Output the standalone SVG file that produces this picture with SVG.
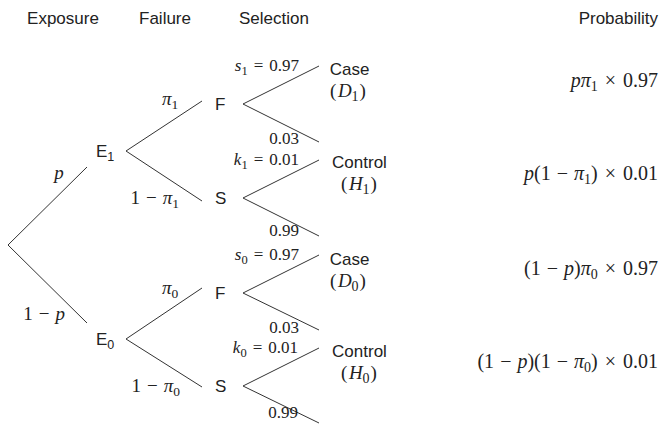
<svg xmlns="http://www.w3.org/2000/svg" width="659" height="432" viewBox="0 0 659 432">
<style>
.h{font-family:"Liberation Sans",Arial,sans-serif;font-size:17px;fill:#222}
.n{font-family:"Liberation Sans",Arial,sans-serif;font-size:17px;fill:#222}
.m{font-family:"Liberation Serif","Times New Roman",serif;font-size:17px;fill:#222}
.f{font-family:"Liberation Serif","Times New Roman",serif;font-size:19px;fill:#222}
.d{font-family:"Liberation Serif","Times New Roman",serif;font-size:19px;fill:#222}
.p{font-family:"Liberation Serif","Times New Roman",serif;font-size:20px;fill:#222}
.i{font-style:italic}
.s{font-size:12.5px}
.fs{font-size:13.5px}
.ps{font-size:14px}
.e line{stroke:#333;stroke-width:1;fill:none}
</style>
<rect width="659" height="432" fill="#fff"/>
<g id="headers">
<text class="h" x="63" y="24" text-anchor="middle">Exposure</text>
<text class="h" x="165" y="24" text-anchor="middle">Failure</text>
<text class="h" x="274" y="24" text-anchor="middle">Selection</text>
<text class="h" x="658" y="24" text-anchor="end">Probability</text>
</g>
<g id="connectors" class="e">
<line x1="8" y1="245" x2="87" y2="167"/>
<line x1="8" y1="245" x2="87" y2="323"/>
<line x1="126" y1="151" x2="202" y2="101"/>
<line x1="126" y1="151" x2="202" y2="201"/>
<line x1="126" y1="339" x2="202" y2="288"/>
<line x1="126" y1="339" x2="202" y2="387"/>
<line x1="243" y1="104" x2="319" y2="66"/>
<line x1="243" y1="104" x2="319" y2="142"/>
<line x1="243" y1="198" x2="319" y2="160"/>
<line x1="243" y1="198" x2="319" y2="236"/>
<line x1="243" y1="293" x2="319" y2="255"/>
<line x1="243" y1="293" x2="319" y2="330"/>
<line x1="243" y1="386" x2="319" y2="348"/>
<line x1="243" y1="386" x2="319" y2="423"/>
</g>
<g id="edge-labels">
<text class="f i" x="59" y="179" text-anchor="middle">p</text>
<text class="f" x="65" y="320" text-anchor="end">1<tspan dx="6">−</tspan><tspan class="i" dx="6">p</tspan></text>
<text class="f" x="162" y="105"><tspan class="i">π</tspan><tspan class="fs" dy="4">1</tspan></text>
<text class="f" x="179" y="204" text-anchor="end">1<tspan dx="6">−</tspan><tspan class="i" dx="6">π</tspan><tspan class="fs" dy="4">1</tspan></text>
<text class="f" x="162" y="294"><tspan class="i">π</tspan><tspan class="fs" dy="4">0</tspan></text>
<text class="f" x="180" y="392" text-anchor="end">1<tspan dx="6">−</tspan><tspan class="i" dx="6">π</tspan><tspan class="fs" dy="4">0</tspan></text>
<text class="m" x="299" y="71" text-anchor="end"><tspan class="i">s</tspan><tspan class="s" dy="4">1</tspan><tspan dy="-4" dx="6">=</tspan><tspan dx="6">0.97</tspan></text>
<text class="m" x="299" y="144" text-anchor="end">0.03</text>
<text class="m" x="299" y="165" text-anchor="end"><tspan class="i">k</tspan><tspan class="s" dy="4">1</tspan><tspan dy="-4" dx="6">=</tspan><tspan dx="6">0.01</tspan></text>
<text class="m" x="299" y="236" text-anchor="end">0.99</text>
<text class="m" x="299" y="260" text-anchor="end"><tspan class="i">s</tspan><tspan class="s" dy="4">0</tspan><tspan dy="-4" dx="6">=</tspan><tspan dx="6">0.97</tspan></text>
<text class="m" x="299" y="333" text-anchor="end">0.03</text>
<text class="m" x="298" y="353" text-anchor="end"><tspan class="i">k</tspan><tspan class="s" dy="4">0</tspan><tspan dy="-4" dx="6">=</tspan><tspan dx="6">0.01</tspan></text>
<text class="m" x="298" y="418" text-anchor="end">0.99</text>
</g>
<g id="node-E1"><text class="n" x="96" y="157">E<tspan class="s" dy="4">1</tspan></text></g>
<g id="node-E0"><text class="n" x="96" y="345">E<tspan class="s" dy="4">0</tspan></text></g>
<g id="node-F1"><text class="n" x="215" y="110">F</text></g>
<g id="node-S1"><text class="n" x="215" y="204">S</text></g>
<g id="node-F0"><text class="n" x="215" y="299">F</text></g>
<g id="node-S0"><text class="n" x="215" y="392">S</text></g>
<g id="node-D1"><text class="n" x="349.5" y="75" text-anchor="middle">Case</text><text class="d" x="348" y="96.5" text-anchor="middle">(<tspan class="i" dx="1.5">D</tspan><tspan class="ps" dy="4">1</tspan><tspan dy="-4" dx="1">)</tspan></text></g>
<g id="node-H1"><text class="n" x="359.5" y="168" text-anchor="middle">Control</text><text class="d" x="359" y="189.5" text-anchor="middle">(<tspan class="i" dx="1.5">H</tspan><tspan class="ps" dy="4">1</tspan><tspan dy="-4" dx="1">)</tspan></text></g>
<g id="node-D0"><text class="n" x="349.5" y="265" text-anchor="middle">Case</text><text class="d" x="348" y="286.5" text-anchor="middle">(<tspan class="i" dx="1.5">D</tspan><tspan class="ps" dy="4">0</tspan><tspan dy="-4" dx="1">)</tspan></text></g>
<g id="node-H0"><text class="n" x="359.5" y="357" text-anchor="middle">Control</text><text class="d" x="359" y="378.5" text-anchor="middle">(<tspan class="i" dx="1.5">H</tspan><tspan class="ps" dy="4">0</tspan><tspan dy="-4" dx="1">)</tspan></text></g>
<g id="probabilities">
<text class="p" x="658" y="87" text-anchor="end"><tspan class="i">pπ</tspan><tspan class="ps" dy="4">1</tspan><tspan dy="-4" dx="7">×</tspan><tspan dx="7">0.97</tspan></text>
<text class="p" x="658" y="180" text-anchor="end"><tspan class="i">p</tspan>(1<tspan dx="6">−</tspan><tspan class="i" dx="6">π</tspan><tspan class="ps" dy="4">1</tspan><tspan dy="-4">)</tspan><tspan dx="7">×</tspan><tspan dx="7">0.01</tspan></text>
<text class="p" x="658" y="275" text-anchor="end">(1<tspan dx="6">−</tspan><tspan class="i" dx="6">p</tspan>)<tspan class="i">π</tspan><tspan class="ps" dy="4">0</tspan><tspan dy="-4" dx="7">×</tspan><tspan dx="7">0.97</tspan></text>
<text class="p" x="658" y="368" text-anchor="end">(1<tspan dx="6">−</tspan><tspan class="i" dx="6">p</tspan>)(1<tspan dx="6">−</tspan><tspan class="i" dx="6">π</tspan><tspan class="ps" dy="4">0</tspan><tspan dy="-4">)</tspan><tspan dx="7">×</tspan><tspan dx="7">0.01</tspan></text>
</g>
</svg>
